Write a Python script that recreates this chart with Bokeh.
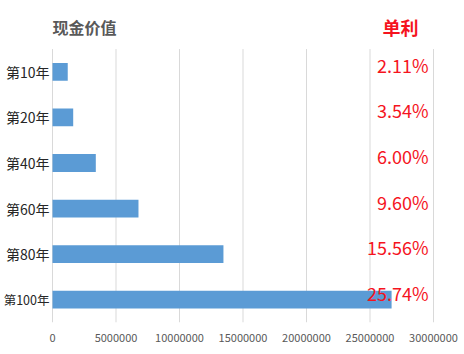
from bokeh.plotting import figure
from bokeh.models import ColumnDataSource, FactorRange, Range1d, NumeralTickFormatter, FixedTicker
from bokeh.core.properties import value
from bokeh.embed import file_html
from bokeh.resources import INLINE

years = ["第10年", "第20年", "第40年", "第60年", "第80年", "第100年"]
cash_values = [1200000, 1630000, 3410000, 6770000, 13460000, 26700000]
simple_rates = ["2.11%", "3.54%", "6.00%", "9.60%", "15.56%", "25.74%"]
x_ticks = [0, 5000000, 10000000, 15000000, 20000000, 25000000, 30000000]
title_left = "现金价值"
title_right = "单利"

FONT = "Noto Sans CJK SC"
W, H = 464, 354
AX_MAX = x_ticks[-1]
PLOT_L, PLOT_R = 52, 433          # pixel span of the value axis (0 .. max)
scale = (PLOT_R - PLOT_L) / AX_MAX
x_start = -PLOT_L / scale
x_end = AX_MAX + (W - PLOT_R) / scale

HEADER = " "
p = figure(width=W, height=H, output_backend="svg", toolbar_location=None,
           y_range=FactorRange(*reversed(years), HEADER), x_range=Range1d(x_start, x_end),
           min_border_left=0, min_border_right=0, min_border_top=3, min_border_bottom=32)
p.outline_line_color = None
p.background_fill_color = "white"
p.border_fill_color = "white"

n = len(years)
# vertical grid lines at the value ticks, spanning the bar rows only
grid = ColumnDataSource(dict(x=x_ticks, y0=[0] * len(x_ticks), y1=[n] * len(x_ticks)))
p.segment(x0="x", x1="x", y0="y0", y1="y1", source=grid, line_color="#D9D9D9", line_width=1)

src = ColumnDataSource(dict(y=years, v=cash_values, t=simple_rates,
                            tx=[AX_MAX * 0.987] * n, x0=[0] * n,
                            fs=["14px"] * (n - 1) + ["12.5px"]))
p.hbar(y="y", right="v", left=0, height=0.39, source=src, color="#5B9BD5", line_color=None)

p.text(x="tx", y="y", text="t", source=src, text_color="#F5141E", text_font=value(FONT),
       text_font_size="18px", text_align="right", text_baseline="middle", y_offset=-7)

p.text(x="x0", y="y", text="y", source=src, text_color="#262626", text_font=value(FONT),
       text_font_size="fs", text_align="right", text_baseline="middle", x_offset=-3)

hdr = ColumnDataSource(dict(x=[0], xr=[AX_MAX * 0.987], y=[HEADER], a=[title_left], b=[title_right]))
p.text(x="x", y="y", text="a", source=hdr, text_color="#595959", text_font=value(FONT),
       text_font_size="16px", text_font_style="bold", text_align="left",
       text_baseline="middle", y_offset=1)
p.text(x="xr", y="y", text="b", source=hdr, text_color="#F5141E", text_font=value(FONT),
       text_font_size="18px", text_font_style="bold", text_align="right",
       text_baseline="middle", y_offset=1, x_offset=-10)

p.xaxis.ticker = FixedTicker(ticks=x_ticks)
p.xaxis.formatter = NumeralTickFormatter(format="0")
p.xaxis.axis_line_color = None
p.xaxis.major_tick_line_color = None
p.xaxis.minor_tick_line_color = None
p.xaxis.major_label_text_font = FONT
p.xaxis.major_label_text_font_size = "11px"
p.xaxis.major_label_text_color = "#595959"
p.xaxis.major_label_standoff = 5

p.yaxis.visible = False
p.xgrid.grid_line_color = None
p.ygrid.grid_line_color = None

open("out.html", "w").write(file_html(p, INLINE))
